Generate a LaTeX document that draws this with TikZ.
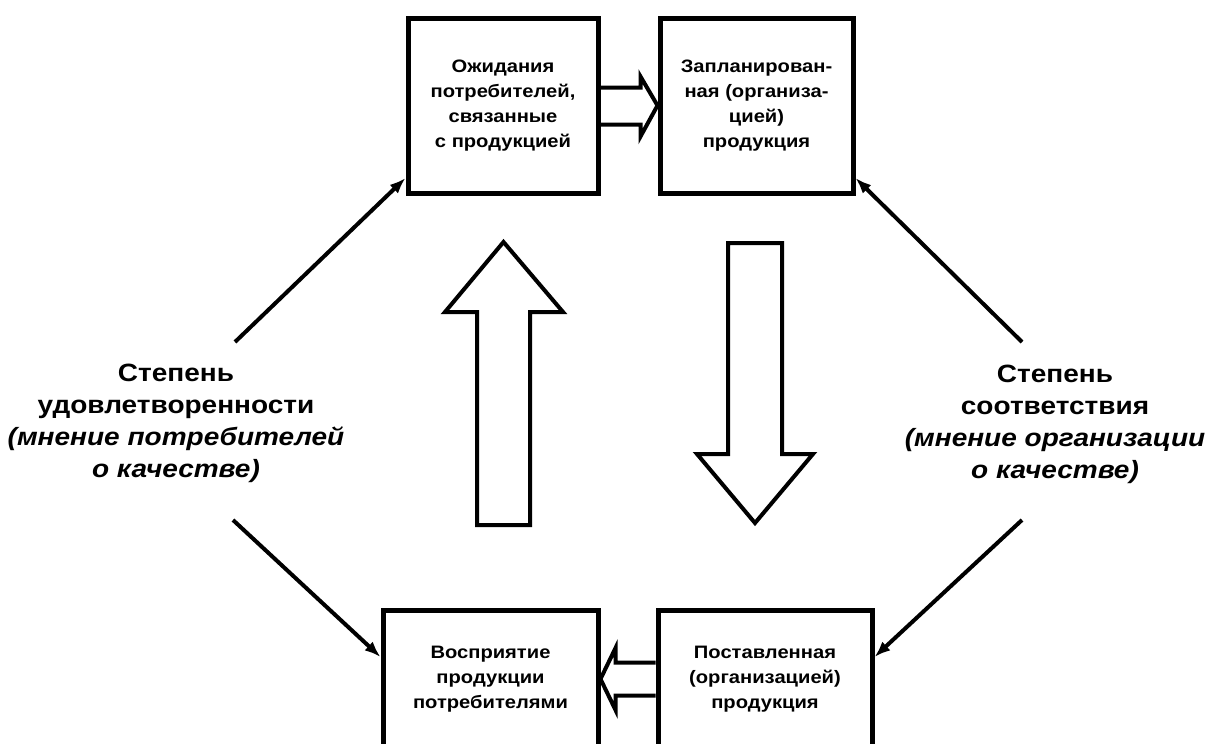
\documentclass[tikz,border=0pt]{standalone}
\usepackage{fontspec}
\setmainfont{Liberation Sans}
\newfontfamily\boxfont[FakeStretch=1.12]{Liberation Sans}
\usetikzlibrary{arrows.meta,calc}
\tikzset{
  box/.style={draw=black, line width=5pt, fill=white, align=center,
    font=\boxfont\bfseries\fontsize{18}{25}\selectfont, inner sep=0pt},
  lbl/.style={align=center, font=\boxfont\bfseries\fontsize{25}{32}\selectfont, inner sep=0pt},
  diag/.style={line width=4pt, -{Latex[length=16pt,width=12pt]}},
  hollow/.style={draw=black, line width=4pt, line join=miter},
}
\begin{document}
\begin{tikzpicture}[x=1pt,y=-1pt]
\useasboundingbox (0,0) rectangle (1208,744);
\fill[white] (0,0) rectangle (1208,744);
\clip (0,0) rectangle (1208,744);

\node[box, minimum width=190pt, minimum height=175pt] (tl) at (503,105.5)
  {Ожидания\\потребителей,\\связанные\\с продукцией};
\node[box, minimum width=193pt, minimum height=175pt] (tr) at (756.5,105.5)
  {Запланирован-\\ная (организа-\\цией)\\продукция};
\node[box, minimum width=215pt, minimum height=138pt] (bl) at (490.5,679)
  {Восприятие\\продукции\\потребителями};
\node[box, minimum width=214pt, minimum height=138pt] (br) at (765,679)
  {Поставленная\\(организацией)\\продукция};

\node[lbl] (ll) at (176,423) {Степень\\удовлетворенности\\{\itshape(мнение потребителей}\\{\itshape о качестве)}};
\node[lbl] (rl) at (1055,424) {Степень\\соответствия\\{\itshape(мнение организации}\\{\itshape о качестве)}};

% double hollow arrows between boxes
\draw[hollow] ($(tl.east)+(0,-18)$) -- ($(tr.west)+(-17,-18)$) -- ($(tr.west)+(-17,-29)$)
  -- (tr.west) -- ($(tr.west)+(-17,31)$) -- ($(tr.west)+(-17,19)$) -- ($(tl.east)+(0,19)$);
\draw[hollow] ($(br.west)+(0,-16.5)$) -- ($(bl.east)+(15,-16.5)$) -- ($(bl.east)+(15,-31)$)
  -- (bl.east) -- ($(bl.east)+(15,31)$) -- ($(bl.east)+(15,16.5)$) -- ($(br.west)+(0,16.5)$);

% big hollow arrows
\draw[hollow] (477,525) -- (477,312) -- (445,312) -- (503.5,242) -- (563,312) -- (530,312) -- (530,525) -- cycle;
\draw[hollow] (728,243) -- (782,243) -- (782,454) -- (813,454) -- (755,523) -- (697,454) -- (728,454) -- cycle;

% diagonal arrows
\coordinate (a1) at (235,342);
\coordinate (a2) at (1022,342);
\coordinate (a3) at (233,520);
\coordinate (a4) at (1022,520);
\draw[diag] (a1) -- ($(tl.south west)+(0,-17.5)$);
\draw[diag] (a2) -- ($(tr.south east)+(0,-17.5)$);
\draw[diag] (a3) -- ($(bl.north west)+(0,49.5)$);
\draw[diag] (a4) -- ($(br.north east)+(0,49.5)$);
\end{tikzpicture}
\end{document}
